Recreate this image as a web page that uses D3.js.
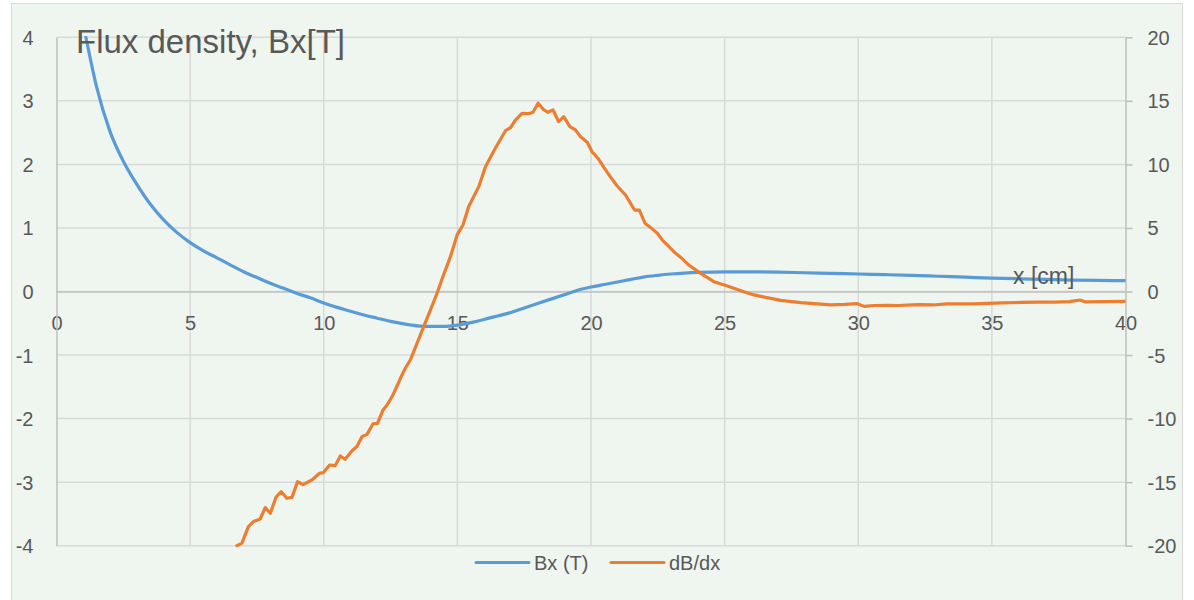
<!DOCTYPE html>
<html>
<head>
<meta charset="utf-8">
<script src="https://cdn.jsdelivr.net/npm/d3@7"></script>
<style>
  html, body { margin: 0; padding: 0; background: #ffffff; }
  svg { display: block; }
  text { font-family: "Liberation Sans", Arial, sans-serif; fill: #595959; }
</style>
</head>
<body>
<svg id="chart" width="1194" height="600"></svg>
<script>
// ---- data ----
const title = "Flux density, Bx[T]";
const xAxisTitle = "x [cm]";
const seriesNames = ["Bx (T)", "dB/dx"];
const xTicks = [0, 5, 10, 15, 20, 25, 30, 35, 40];
const yLeftTicks = [-4, -3, -2, -1, 0, 1, 2, 3, 4];
const yRightTicks = [-20, -15, -10, -5, 0, 5, 10, 15, 20];

// Bx (T), left axis
const bxX = [1.1, 1.5, 2.0, 2.5, 3.0, 3.5, 4.0, 4.5, 5.0, 5.5, 6.0, 6.5, 7.0, 7.5, 8.0, 8.5, 9.0, 9.5,
  10.0, 10.5, 11.0, 11.5, 12.0, 12.5, 13.0, 13.5, 14.0, 14.5, 15.0, 15.5, 16.0, 16.5, 17.0, 17.5,
  18.0, 18.5, 19.0, 19.5, 20.0, 20.5, 21.0, 21.5, 22.0, 22.5, 23.0, 23.5, 24.0, 25.0, 26.0, 27.0,
  28.0, 29.0, 30.0, 31.0, 32.0, 33.0, 34.0, 35.0, 36.0, 37.0, 38.0, 39.0, 40.0];
const bxY = [4.00, 3.22, 2.52, 2.05, 1.69, 1.38, 1.13, 0.93, 0.77, 0.64, 0.53, 0.42, 0.31, 0.22, 0.13, 0.05, -0.03, -0.10,
  -0.18, -0.25, -0.31, -0.37, -0.42, -0.47, -0.51, -0.54, -0.55, -0.55, -0.53, -0.49, -0.44, -0.385, -0.33, -0.26,
  -0.19, -0.12, -0.05, 0.02, 0.07, 0.11, 0.15, 0.19, 0.23, 0.255, 0.275, 0.29, 0.30, 0.31, 0.31, 0.305,
  0.295, 0.285, 0.275, 0.265, 0.255, 0.24, 0.225, 0.21, 0.20, 0.19, 0.18, 0.175, 0.17];

// dB/dx, right axis
const dbX = [6.75, 6.94, 7.18, 7.37, 7.62, 7.81, 8.0, 8.22, 8.41, 8.62, 8.81, 9.02, 9.22, 9.56, 9.84, 9.99,
  10.22, 10.43, 10.62, 10.8, 11.05, 11.24, 11.43, 11.62, 11.84, 12.01, 12.22, 12.37, 12.59, 12.87, 13.05,
  13.24, 13.49, 13.74, 13.99, 14.24, 14.43, 14.74, 14.99, 15.21, 15.42, 15.8, 16.05, 16.42, 16.8, 16.99,
  17.17, 17.42, 17.67, 17.83, 18.02, 18.21, 18.38, 18.58, 18.79, 18.98, 19.21, 19.42, 19.61, 19.86, 20.04,
  20.29, 20.48, 20.7, 20.98, 21.29, 21.48, 21.63, 21.81, 22.02, 22.29, 22.48, 22.67, 22.88, 23.1, 23.35,
  23.66, 24.1, 24.6, 25.1, 25.72, 26.1, 26.35, 27.1, 27.85, 28.6, 28.97, 29.5, 29.97, 30.22, 30.6, 31.1,
  31.5, 32.0, 32.35, 32.8, 33.3, 33.85, 34.3, 34.85, 35.4, 36.1, 36.7, 37.35, 37.9, 38.3, 38.5, 39.2, 40.0];
const dbY = [-20.0, -19.8, -18.5, -18.1, -17.9, -17.0, -17.45, -16.15, -15.75, -16.27, -16.2, -14.96, -15.2, -14.83, -14.3, -14.25,
  -13.65, -13.7, -12.94, -13.2, -12.55, -12.2, -11.42, -11.24, -10.42, -10.37, -9.32, -8.93, -8.14, -6.83, -6.04,
  -5.39, -4.08, -2.77, -1.46, -0.14, 1.0, 2.74, 4.45, 5.23, 6.67, 8.25, 9.82, 11.27, 12.65, 12.89,
  13.49, 14.02, 13.99, 14.1, 14.81, 14.34, 14.1, 14.28, 13.36, 13.76, 12.97, 12.71, 12.18, 11.74, 11.0,
  10.4, 9.77, 9.1, 8.3, 7.59, 6.94, 6.41, 6.41, 5.37, 4.93, 4.58, 4.05, 3.6, 3.13, 2.7,
  2.08, 1.43, 0.77, 0.43, -0.02, -0.27, -0.38, -0.7, -0.87, -1.0, -1.05, -1.02, -0.96, -1.17, -1.1, -1.08,
  -1.1, -1.05, -1.03, -1.06, -0.98, -0.98, -0.97, -0.93, -0.9, -0.86, -0.84, -0.83, -0.8, -0.67, -0.82, -0.8, -0.78];

// ---- layout ----
const svg = d3.select("#chart");
const plot = { left: 56.5, right: 1125.5, top: 37.3, bottom: 545.7 };
const fmt = d => String(d); // plain hyphen-minus, as in the reference

const x = d3.scaleLinear().domain([0, 40]).range([plot.left, plot.right]);
const yL = d3.scaleLinear().domain([-4, 4]).range([plot.bottom, plot.top]);
const yR = d3.scaleLinear().domain([-20, 20]).range([plot.bottom, plot.top]);

// chart area background + border
svg.append("rect")
  .attr("x", 11.5).attr("y", 3.5).attr("width", 1171).attr("height", 610)
  .attr("fill", "#eef6ef").attr("stroke", "#d9d9d9").attr("stroke-width", 1);

// gridlines
const grid = svg.append("g");
grid.selectAll("line.h").data(yLeftTicks).join("line")
  .attr("x1", plot.left).attr("x2", plot.right)
  .attr("y1", d => yL(d)).attr("y2", d => yL(d))
  .attr("stroke", "#d9d9d9").attr("stroke-width", 1.5);
grid.selectAll("line.v").data(xTicks.filter(d => d > 0 && d < 40)).join("line")
  .attr("x1", d => x(d)).attr("x2", d => x(d))
  .attr("y1", plot.top).attr("y2", plot.bottom)
  .attr("stroke", "#d9d9d9").attr("stroke-width", 1.5);

// x axis at y=0
const xAxis = d3.axisBottom(x).tickValues(xTicks).tickSize(0).tickPadding(0).tickFormat(fmt);
const gx = svg.append("g").attr("transform", `translate(0,${yL(0)})`).call(xAxis);
gx.select(".domain").attr("stroke", "#bfbfbf").attr("stroke-width", 1.5);
gx.selectAll("text").attr("font-size", 20).attr("dy", 0).attr("y", 38.5)
  .style("font-family", "'Liberation Sans', Arial, sans-serif").attr("fill", "#595959");

// left axis
const yAxisL = d3.axisLeft(yL).tickValues(yLeftTicks).tickSize(0).tickPadding(0).tickFormat(fmt);
const gyl = svg.append("g").attr("transform", `translate(${plot.left},0)`).call(yAxisL);
gyl.select(".domain").attr("stroke", "#bfbfbf").attr("stroke-width", 1.5);
gyl.selectAll("text").attr("font-size", 20).attr("x", -23).attr("dy", "0.35em")
  .style("font-family", "'Liberation Sans', Arial, sans-serif").attr("fill", "#595959");

// right axis
const yAxisR = d3.axisRight(yR).tickValues(yRightTicks).tickSizeInner(7).tickSizeOuter(0).tickPadding(0).tickFormat(fmt);
const gyr = svg.append("g").attr("transform", `translate(${plot.right},0)`).call(yAxisR);
gyr.select(".domain").attr("stroke", "#bfbfbf").attr("stroke-width", 1.5);
gyr.selectAll(".tick line").attr("stroke", "#bfbfbf").attr("stroke-width", 1.5);
gyr.selectAll("text").attr("font-size", 20).attr("x", 22).attr("dy", "0.35em")
  .style("font-family", "'Liberation Sans', Arial, sans-serif").attr("fill", "#595959");

// clip
svg.append("clipPath").attr("id", "clip").append("rect")
  .attr("x", plot.left).attr("y", plot.top - 2)
  .attr("width", plot.right - plot.left).attr("height", plot.bottom - plot.top + 4);

const bx = bxX.map((v, i) => [v, bxY[i]]);
const db = dbX.map((v, i) => [v, dbY[i]]);

const lineL = d3.line().x(d => x(d[0])).y(d => yL(d[1])).curve(d3.curveMonotoneX);
const lineR = d3.line().x(d => x(d[0])).y(d => yR(d[1]));

const lines = svg.append("g").attr("clip-path", "url(#clip)");
lines.append("path").attr("d", lineL(bx)).attr("fill", "none")
  .attr("stroke", "#5b9bd5").attr("stroke-width", 3.2).attr("stroke-linejoin", "round").attr("stroke-linecap", "round");
lines.append("path").attr("d", lineR(db)).attr("fill", "none")
  .attr("stroke", "#ed7d31").attr("stroke-width", 3.2).attr("stroke-linejoin", "round").attr("stroke-linecap", "round");

// title
svg.append("text").attr("x", 76).attr("y", 52.5).attr("font-size", 33).text(title);

// x axis title
svg.append("text").attr("x", 1013).attr("y", 284).attr("font-size", 23).text(xAxisTitle);

// legend
const legend = [
  { name: seriesNames[0], color: "#5b9bd5", x: 476 },
  { name: seriesNames[1], color: "#ed7d31", x: 611 }
];
const lg = svg.append("g");
legend.forEach(l => {
  lg.append("line").attr("x1", l.x).attr("x2", l.x + 53).attr("y1", 562.5).attr("y2", 562.5)
    .attr("stroke", l.color).attr("stroke-width", 3).attr("stroke-linecap", "round");
  lg.append("text").attr("x", l.x + 58).attr("y", 569.5).attr("font-size", 20).text(l.name);
});
</script>
</body>
</html>
